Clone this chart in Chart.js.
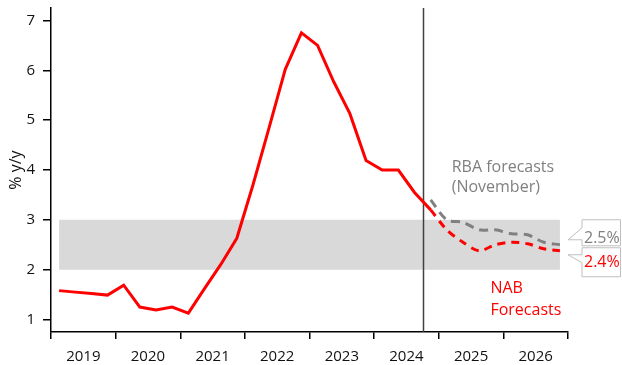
<!DOCTYPE html>
<html>
<head>
<meta charset="utf-8">
<script src="https://cdn.jsdelivr.net/npm/chart.js@4.4.1/dist/chart.umd.min.js"></script>
<style>
  body { margin: 0; background: #fff; }
  #wrap { width: 622px; height: 365px; }
</style>
</head>
<body>
<div id="wrap"><canvas id="cpiChart"></canvas></div>
<script>
// quarterly, 2019 Q1 .. 2026 Q4
const years = ['2019', '2020', '2021', '2022', '2023', '2024', '2025', '2026'];
const quarters = [];
years.forEach(y => ['Q1', 'Q2', 'Q3', 'Q4'].forEach(q => quarters.push(y + ' ' + q)));

// trimmed mean CPI, % y/y (actual, runs into first forecast quarter)
const actual = [1.58, 1.55, 1.52, 1.49, 1.69, 1.25, 1.19, 1.25,
                1.13, 1.62, 2.1, 2.63, 3.7, 4.85, 6.02, 6.75,
                6.5, 5.77, 5.13, 4.19, 4.0, 4.0, 3.55, 3.2];
// forecasts from 2024 Q4
const forecastStart = '2024 Q4';
const nabForecast = [3.2, 2.8, 2.55, 2.38, 2.5, 2.55, 2.52, 2.42, 2.38];
const rbaForecast = [3.4, 3.0, 2.95, 2.8, 2.8, 2.72, 2.7, 2.55, 2.5];
const targetBand = [2, 3];
const yTicks = [1, 2, 3, 4, 5, 6, 7];

const fcIdx = quarters.indexOf(forecastStart);
const pts = (arr, start) => arr.map((v, i) => ({ x: start + i + 0.5, y: v }));

Chart.defaults.font.family = "'Open Sans', sans-serif";
Chart.defaults.color = '#111';

const overlay = {
    id: 'overlay',
    afterDatasetDraw(chart, args) {
        // forecast divider sits above the band, under the lines
        if (args.index !== 3) return;
        const { ctx, chartArea, scales: { x } } = chart;
        const px = Math.round(x.getPixelForValue(fcIdx)) + 0.5;
        ctx.save();
        ctx.strokeStyle = '#404040';
        ctx.lineWidth = 1.5;
        ctx.beginPath();
        ctx.moveTo(px, chartArea.top);
        ctx.lineTo(px, chartArea.bottom);
        ctx.stroke();
        ctx.restore();
    },
    afterDraw(chart) {
        const { ctx, scales: { x, y } } = chart;
        ctx.save();
        ctx.font = "16px 'Open Sans', sans-serif";
        ctx.textBaseline = 'alphabetic';
        ctx.textAlign = 'left';

        ctx.fillStyle = '#808080';
        ctx.fillText('RBA forecasts', x.getPixelForValue(24.8), y.getPixelForValue(3.96));
        ctx.fillText('(November)', x.getPixelForValue(24.8), y.getPixelForValue(3.56));
        ctx.fillStyle = '#ff0000';
        ctx.fillText('NAB', x.getPixelForValue(27.2), y.getPixelForValue(1.53));
        ctx.fillText('Forecasts', x.getPixelForValue(27.2), y.getPixelForValue(1.1));

        // end-value callouts
        const tipX = x.right;
        const left = tipX + 14;
        const right = chart.width - 1.5;
        function callout(tipY, top, bottom, upY, lowY, text, color, base) {
            ctx.beginPath();
            ctx.moveTo(left, top);
            ctx.lineTo(right, top);
            ctx.lineTo(right, bottom);
            ctx.lineTo(left, bottom);
            ctx.lineTo(left, lowY);
            ctx.lineTo(tipX, tipY);
            ctx.lineTo(left, upY);
            ctx.closePath();
            ctx.fillStyle = '#fff';
            ctx.fill();
            ctx.strokeStyle = '#bfbfbf';
            ctx.lineWidth = 1;
            ctx.stroke();
            ctx.fillStyle = color;
            ctx.fillText(text, left + 2, base);
        }
        const t1 = y.getPixelForValue(rbaForecast[rbaForecast.length - 1]) - 5;
        callout(t1, t1 - 20, t1 + 6, t1 - 12, t1,
            rbaForecast[rbaForecast.length - 1].toFixed(1) + '%', '#808080', t1 + 3);
        const t2 = y.getPixelForValue(nabForecast[nabForecast.length - 1]) + 4;
        callout(t2, t2 - 7, t2 + 22, t2, t2 + 8,
            nabForecast[nabForecast.length - 1].toFixed(1) + '%', '#ff0000', t2 + 12.5);
        ctx.restore();
    }
};

const ctx = document.getElementById('cpiChart').getContext('2d');
new Chart(ctx, {
    type: 'line',
    data: {
        datasets: [{
            label: 'Actual',
            data: pts(actual, 0),
            borderColor: '#ff0000',
            borderWidth: 3,
            pointRadius: 0,
            tension: 0
        }, {
            label: 'NAB forecasts',
            data: pts(nabForecast, fcIdx),
            borderColor: '#ff0000',
            borderWidth: 3,
            borderDash: [8, 6],
            pointRadius: 0,
            tension: 0.3
        }, {
            label: 'RBA forecasts (November)',
            data: pts(rbaForecast, fcIdx),
            borderColor: '#808080',
            borderWidth: 3,
            borderDash: [9, 6],
            pointRadius: 0,
            tension: 0.3
        }, {
            label: 'Band top',
            data: quarters.map((q, i) => ({ x: i + 0.5, y: targetBand[1] })),
            borderColor: 'transparent',
            borderWidth: 0,
            backgroundColor: '#d9d9d9',
            pointRadius: 0,
            fill: '+1'
        }, {
            label: 'Band bottom',
            data: quarters.map((q, i) => ({ x: i + 0.5, y: targetBand[0] })),
            borderColor: 'transparent',
            borderWidth: 0,
            pointRadius: 0,
            fill: false
        }]
    },
    options: {
        responsive: true,
        maintainAspectRatio: false,
        animation: false,
        layout: { padding: { top: 8, right: 54, left: 0, bottom: 0 } },
        plugins: {
            legend: { display: false },
            tooltip: { enabled: false }
        },
        scales: {
            x: {
                type: 'linear',
                position: 'bottom',
                weight: 0,
                min: 0,
                max: quarters.length,
                afterBuildTicks: s => {
                    s.ticks = years.map((yr, i) => ({ value: i * 4 })).concat([{ value: quarters.length }]);
                },
                ticks: { display: false },
                grid: { drawOnChartArea: false, drawTicks: true, tickLength: 7, color: '#000', lineWidth: 1.5 },
                border: { color: '#000', width: 1.5 },
                afterFit: s => { s.height = 7; }
            },
            xYears: {
                type: 'linear',
                position: 'bottom',
                weight: 1,
                min: 0,
                max: quarters.length,
                afterBuildTicks: s => {
                    s.ticks = years.map((yr, i) => ({ value: i * 4 + 2 }));
                },
                ticks: {
                    autoSkip: false,
                    maxRotation: 0,
                    padding: 1,
                    font: { size: 15 },
                    callback: v => years[(v - 2) / 4]
                },
                grid: { display: false },
                border: { display: false },
                afterFit: s => { s.height = 26; s.paddingLeft = 0; s.paddingRight = 0; }
            },
            y: {
                min: 0.75,
                max: 7.25,
                afterBuildTicks: s => { s.ticks = yTicks.map(v => ({ value: v })); },
                ticks: { padding: 8, font: { size: 15 } },
                grid: { drawOnChartArea: false, tickLength: 8, color: '#000', lineWidth: 1.5 },
                border: { color: '#000', width: 1.5 },
                title: { display: true, text: '% y/y', font: { size: 16 }, padding: { top: 7, bottom: 0 } },
                afterFit: s => { s.width = 51; s.paddingTop = 0; s.paddingBottom = 0; }
            }
        }
    },
    plugins: [overlay]
});
</script>
</body>
</html>
